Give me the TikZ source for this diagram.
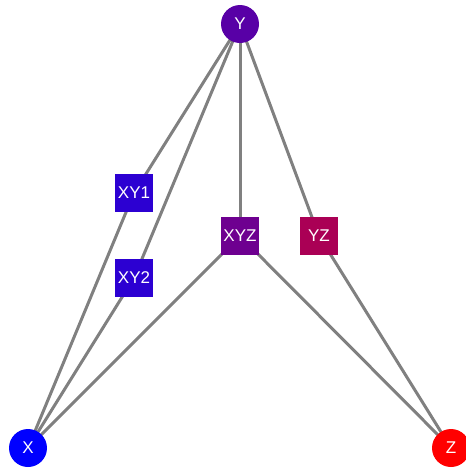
\documentclass[tikz,border=0pt]{standalone}
\usepackage{fontspec}
\setmainfont{Liberation Sans}
\usetikzlibrary{backgrounds}
\definecolor{cY}{HTML}{5800A6}
\definecolor{cXY}{HTML}{2C00D2}
\definecolor{cXYZ}{HTML}{6E0090}
\definecolor{cYZ}{HTML}{AA0055}
\definecolor{cX}{HTML}{0000FF}
\definecolor{cZ}{HTML}{FF0000}
\definecolor{edgegray}{HTML}{808080}
\tikzset{
  vert/.style={circle, minimum size=38pt, inner sep=0pt, text=white, font=\fontsize{17}{17}\selectfont},
  hedge/.style={rectangle, minimum size=38pt, inner sep=0pt, text=white, font=\fontsize{17}{17}\selectfont},
  conn/.style={draw=edgegray, line width=3pt}
}
\begin{document}
\begin{tikzpicture}[x=1pt,y=-1pt]
\useasboundingbox (0,0) rectangle (466,469);
\node[vert, fill=cY] (Y) at (240,24) {Y};
\node[vert, fill=cX] (X) at (28,448) {X};
\node[vert, fill=cZ] (Z) at (451,448) {Z};
\node[hedge, fill=cXY] (XY1) at (134,193) {XY1};
\node[hedge, fill=cXY] (XY2) at (134,278) {XY2};
\node[hedge, fill=cXYZ] (XYZ) at (240,236) {XYZ};
\node[hedge, fill=cYZ] (YZ) at (319,236) {YZ};
\begin{scope}[on background layer]
\draw[conn] (Y.center) -- (XY1.center);
\draw[conn] (Y.center) -- (XY2.center);
\draw[conn] (Y.center) -- (XYZ.center);
\draw[conn] (Y.center) -- (YZ.center);
\draw[conn] (X.center) -- (XY1.center);
\draw[conn] (X.center) -- (XY2.center);
\draw[conn] (X.center) -- (XYZ.center);
\draw[conn] (Z.center) -- (XYZ.center);
\draw[conn] (Z.center) -- (YZ.center);
\end{scope}
\end{tikzpicture}
\end{document}
